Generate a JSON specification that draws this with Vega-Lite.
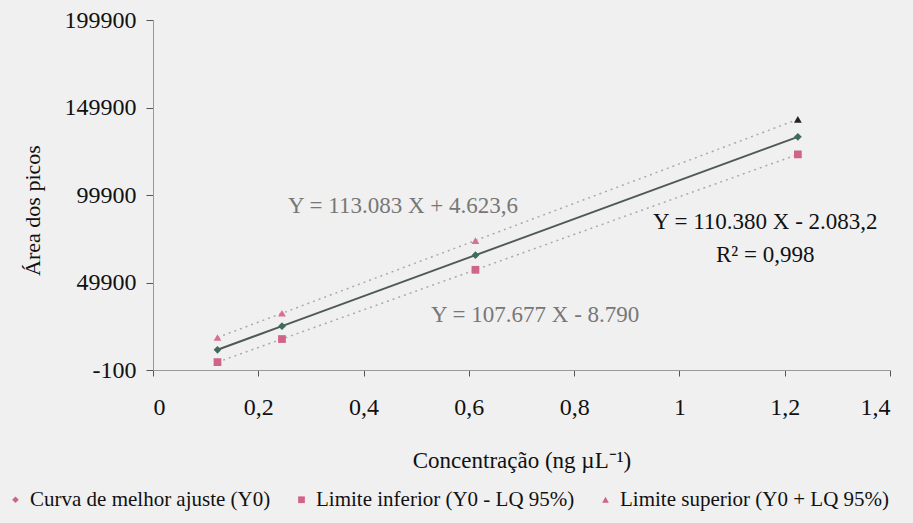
{
  "$schema": "https://vega.github.io/schema/vega-lite/v6.json",
  "autosize": "none",
  "width": 737,
  "height": 350,
  "padding": {"left": 153, "top": 20, "right": 23, "bottom": 153},
  "background": "#f0f0f0",
  "config": {
    "view": {"stroke": null},
    "font": "Liberation Serif",
    "axis": {"grid": false, "domainColor": "#999999", "tickColor": "#555555", "labelFont": "Liberation Serif", "titleFont": "Liberation Serif", "labelFontSize": 24, "titleFontSize": 23, "labelColor": "#111111", "titleColor": "#111111", "titleFontWeight": "normal"},
    "legend": {"labelFont": "Liberation Serif", "labelFontSize": 21, "labelColor": "#111111", "labelLimit": 0}
  },
  "data": {"values": [
    {"x": 0.1225, "serie": "Curva de melhor ajuste (Y0)", "y": 11438},
    {"x": 0.245, "serie": "Curva de melhor ajuste (Y0)", "y": 24960},
    {"x": 0.6125, "serie": "Curva de melhor ajuste (Y0)", "y": 65524},
    {"x": 1.225, "serie": "Curva de melhor ajuste (Y0)", "y": 133132},
    {"x": 0.1225, "serie": "Limite inferior (Y0 - LQ 95%)", "y": 4400},
    {"x": 0.245, "serie": "Limite inferior (Y0 - LQ 95%)", "y": 17591},
    {"x": 0.6125, "serie": "Limite inferior (Y0 - LQ 95%)", "y": 57162},
    {"x": 1.225, "serie": "Limite inferior (Y0 - LQ 95%)", "y": 123114},
    {"x": 0.1225, "serie": "Limite superior (Y0 + LQ 95%)", "y": 18476},
    {"x": 0.245, "serie": "Limite superior (Y0 + LQ 95%)", "y": 32329},
    {"x": 0.6125, "serie": "Limite superior (Y0 + LQ 95%)", "y": 73887},
    {"x": 1.225, "serie": "Limite superior (Y0 + LQ 95%)", "y": 143150}
  ]},
  "encoding": {
    "x": {"field": "x", "type": "quantitative", "scale": {"domain": [0, 1.4], "nice": false},
      "axis": {"values": [0, 0.2, 0.4, 0.6, 0.8, 1, 1.2, 1.4], "labelExpr": "replace(toString(datum.value), '.', ',')", "labelFont": "Liberation Serif", "titleFont": "Liberation Serif", "tickSize": 6, "labelPadding": 19, "title": "Concentração (ng µL⁻¹)", "titlePadding": 30}},
    "y": {"field": "y", "type": "quantitative", "scale": {"domain": [-100, 199900], "nice": false, "zero": false},
      "axis": {"values": [-100, 49900, 99900, 149900, 199900], "labelExpr": "toString(datum.value)", "labelFont": "Liberation Serif", "titleFont": "Liberation Serif", "tickSize": 7, "labelPadding": 10, "title": "Área dos picos", "titlePadding": 20, "titleFontSize": 22, "titleY": 190}}
  },
  "layer": [
    {
      "transform": [{"filter": "datum.serie !== 'Curva de melhor ajuste (Y0)'"}],
      "mark": {"type": "line", "color": "#aaaaaa", "strokeWidth": 1.5, "strokeDash": [2, 4]},
      "encoding": {"detail": {"field": "serie"}}
    },
    {
      "transform": [{"filter": "datum.serie === 'Curva de melhor ajuste (Y0)'"}],
      "mark": {"type": "line", "color": "#4d5a56", "strokeWidth": 2}
    },
    {
      "mark": {"type": "point", "filled": true, "size": 60, "opacity": 1},
      "encoding": {
        "shape": {"field": "serie", "type": "nominal",
          "scale": {"domain": ["Curva de melhor ajuste (Y0)", "Limite inferior (Y0 - LQ 95%)", "Limite superior (Y0 + LQ 95%)"], "range": ["diamond", "square", "triangle-up"]},
          "legend": {"orient": "none", "legendX": -148, "legendY": 469, "direction": "horizontal", "title": null, "symbolSize": 45, "columnPadding": 20, "labelOffset": 4,
            "labelFont": "Liberation Serif", "symbolFillColor": "#111111", "symbolStrokeColor": "#111111",
            "encode": {"symbols": {"fill": {"value": "#111111"}, "stroke": {"value": "#111111"}}}}},
        "color": {
          "condition": [
            {"test": "datum.serie === 'Curva de melhor ajuste (Y0)'", "value": "#3e6b5c"},
            {"test": "datum.serie === 'Limite superior (Y0 + LQ 95%)' && datum.x > 1", "value": "#222222"},
            {"test": "datum.serie === 'Limite superior (Y0 + LQ 95%)'", "value": "#d9708f"}
          ],
          "value": "#cf6389"
        }
      }
    },
    {
      "data": {"values": [
        {"x": 0.475, "y": 93714, "label": "Y = 113.083 X + 4.623,6", "kind": "n"},
        {"x": 0.726, "y": 31430, "label": "Y = 107.677 X - 8.790", "kind": "n"},
        {"x": 1.163, "y": 84571, "label": "Y = 110.380 X - 2.083,2", "kind": "b"},
        {"x": 1.163, "y": 65714, "label": "R² = 0,998", "kind": "b"}
      ]},
      "mark": {"type": "text", "fontSize": 23, "font": "Liberation Serif"},
      "encoding": {
        "text": {"field": "label"},
        "color": {"condition": {"test": "datum.kind === 'b'", "value": "#111111"}, "value": "#777777"},
        "fontWeight": {"condition": {"test": "datum.kind === 'b'", "value": "bold"}, "value": "normal"}
      }
    }
  ]
}
